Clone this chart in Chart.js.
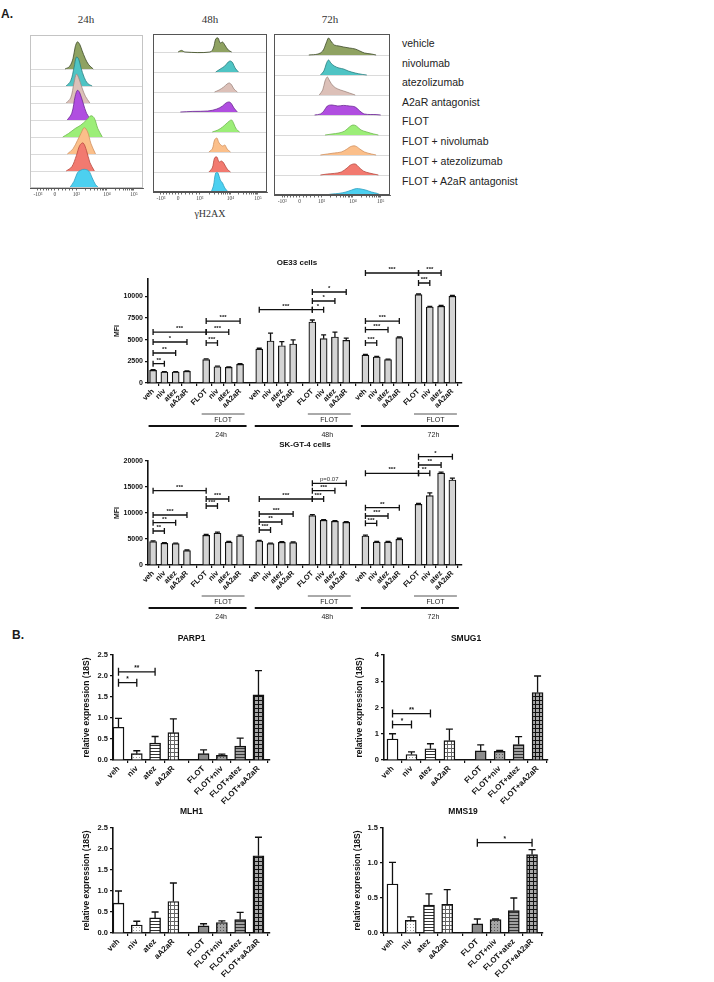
<!DOCTYPE html>
<html>
<head>
<meta charset="utf-8">
<script src="https://cdn.jsdelivr.net/npm/chart.js@4.4.1/dist/chart.umd.min.js"></script>
<style>
  body { margin: 0; width: 714px; height: 982px; background: #fff; position: relative; overflow: hidden;
         font-family: "Liberation Sans", Arial, sans-serif; color: #1a1a1a; }
  canvas { position: absolute; }
  .t { position: absolute; white-space: nowrap; line-height: 1; }
  .c { transform: translate(-50%, -50%); }
  .m { transform: translateY(-50%); }
  .serif { font-family: "Liberation Serif", "Times New Roman", serif; color: #333; }
</style>
</head>
<body>
<div class="t" style="left:1px;top:8px;font-weight:bold;font-size:12px">A.</div>
<div class="t c serif" style="left:86px;top:19px;font-size:11px">24h</div>
<div class="t c serif" style="left:210px;top:19px;font-size:11px">48h</div>
<div class="t c serif" style="left:330px;top:19px;font-size:11px">72h</div>
<div class="t c serif" style="left:210px;top:214px;font-size:10px">γH2AX</div>
<div id="legend"></div>
<div class="t m" style="left:12px;top:635px;font-weight:bold;font-size:12px">B.</div>

<script>
// ---- histogram rows (flow cytometry, gamma-H2AX) ----
const histLabels = ['vehicle', 'nivolumab', 'atezolizumab', 'A2aR antagonist', 'FLOT',
  'FLOT + nivolumab', 'FLOT + atezolizumab', 'FLOT + A2aR antagonist'];
const histFill = ['#8fa262', '#4fc4c4', '#dcc0b8', '#b04ee0', '#9cee78', '#fbbf8a', '#f27a70', '#4cd0f0'];
const histEdge = ['#3d4a2a', '#2a7f80', '#a08880', '#6a2a90', '#70b850', '#d09060', '#b84a40', '#30a0c0'];
const histTickPos = [7, 22, 41, 68, 92];
const histTickText = ['-10³', '0', '10³', '10⁴', '10⁵'];

// [channel, height in rows]
const hist24 = [
  [[31,0],[35,0.15],[38,0.6],[40,1.3],[42,1.6],[44,1.45],[46,1.1],[49,0.6],[52,0.25],[56,0]],
  [[32,0],[36,0.3],[39,1.1],[41,1.7],[43,1.6],[45,1.1],[48,0.5],[51,0.15],[55,0]],
  [[32,0],[36,0.3],[39,1.2],[41,1.7],[43,1.5],[46,0.9],[49,0.4],[53,0]],
  [[33,0],[37,0.4],[40,1.4],[42,1.75],[44,1.6],[47,1.0],[50,0.4],[54,0]],
  [[29,0],[34,0.2],[40,0.5],[45,0.7],[50,1.0],[54,1.25],[57,1.1],[60,0.5],[64,0]],
  [[33,0],[38,0.3],[42,0.8],[45,1.2],[48,1.55],[51,1.3],[54,0.6],[58,0]],
  [[32,0],[37,0.25],[41,0.9],[44,1.5],[47,1.65],[50,1.2],[53,0.5],[57,0]],
  [[35,0],[39,0.4],[42,0.9],[45,1.05],[48,1.1],[52,1.0],[55,0.6],[58,0.2],[61,0]]
];
const hist48 = [
  [[22,0],[25,0.08],[28,0],[50,0],[53,0.2],[55,0.65],[57,0.7],[59,0.45],[61,0.5],[63,0.35],[66,0.1],[69,0]],
  [[55,0],[59,0.15],[63,0.3],[66,0.5],[68,0.55],[70,0.45],[72,0.2],[75,0]],
  [[54,0],[58,0.1],[62,0.25],[65,0.4],[67,0.45],[69,0.35],[71,0.15],[74,0]],
  [[24,0],[35,0.03],[48,0.05],[56,0.15],[61,0.3],[64,0.45],[67,0.5],[69,0.4],[71,0.2],[74,0]],
  [[52,0],[57,0.1],[61,0.25],[64,0.4],[67,0.55],[69,0.6],[71,0.4],[73,0.15],[76,0]],
  [[49,0],[52,0.15],[54,0.6],[56,0.7],[58,0.45],[61,0.3],[63,0.35],[65,0.15],[68,0]],
  [[49,0],[52,0.2],[54,0.7],[56,0.75],[58,0.5],[60,0.55],[62,0.45],[65,0.15],[68,0]],
  [[51,0],[53,0.3],[55,0.95],[57,0.95],[59,0.6],[61,0.45],[63,0.2],[66,0]]
];
const hist72 = [
  [[30,0],[38,0.05],[42,0.2],[45,0.6],[47,0.85],[49,0.7],[52,0.5],[56,0.45],[60,0.4],[65,0.35],[70,0.3],[74,0.2],[78,0.1],[84,0.05],[88,0]],
  [[40,0],[43,0.2],[45,0.55],[47,0.75],[49,0.6],[52,0.45],[56,0.35],[60,0.3],[64,0.2],[70,0.1],[76,0.03],[80,0]],
  [[39,0],[42,0.25],[44,0.7],[46,0.9],[48,0.7],[51,0.45],[55,0.3],[60,0.2],[65,0.1],[70,0]],
  [[35,0],[40,0.05],[43,0.2],[46,0.45],[50,0.5],[55,0.45],[60,0.48],[65,0.45],[70,0.4],[74,0.2],[78,0.05],[88,0.02],[92,0]],
  [[44,0],[50,0.05],[56,0.1],[61,0.2],[65,0.4],[68,0.5],[71,0.45],[75,0.25],[80,0.15],[86,0.05],[90,0]],
  [[40,0],[46,0.05],[52,0.1],[58,0.15],[63,0.3],[66,0.42],[70,0.45],[74,0.3],[78,0.15],[84,0.05],[88,0]],
  [[40,0],[46,0.05],[52,0.08],[58,0.15],[63,0.35],[66,0.5],[70,0.55],[73,0.4],[77,0.2],[82,0.1],[90,0]],
  [[44,0],[50,0.05],[56,0.08],[62,0.15],[67,0.25],[71,0.32],[75,0.3],[79,0.25],[84,0.15],[89,0.08],[92,0]]
];

// ---- MFI bar charts ----
const mfiLabels = ['veh', 'niv', 'atez', 'aA2aR', 'FLOT', 'niv', 'atez', 'aA2aR'];
const timeLabels = ['24h', '48h', '72h'];
const oe33Mean = [1460,1270,1270,1350, 2700,1880,1800,2150, 3920,4850,4300,4500, 7040,5120,5310,4920,
                  3230,3000,2690,5230, 10190,8770,8850,10000];
const oe33Sem  = [80,50,50,50, 90,60,60,70, 90,900,480,480, 230,440,560,260, 70,60,60,80, 80,80,90,110];
const skMean = [4490,4170,4100,2760, 5710,6150,4420,5580, 4620,4100,4360,4300, 9490,8590,8400,8200,
                5580,4420,4420,4940, 11670,13330,17690,16350];
const skSem  = [150,120,120,120, 180,180,120,150, 130,100,120,120, 200,150,150,150, 170,130,130,200,
                200,550,180,350];
// [from bar, to bar, height, label]
const oe33Sig = [
  [0,1,2230,'**'],[0,2,3460,'**'],[0,3,4730,'*'],[0,4,5880,'***'],[4,5,4620,'***'],[4,6,5880,'***'],[4,7,7150,'***'],
  [8,12,8460,'***'],[12,13,8460,'*'],[12,14,9460,'*'],[12,15,10500,'*'],
  [16,17,4620,'***'],[16,18,6150,'***'],[16,19,7150,'***'],[16,20,12690,'***'],[20,21,11540,'***'],[20,22,12690,'***']
];
const skSig = [
  [0,1,6540,'**'],[0,2,8140,'**'],[0,3,9620,'***'],[0,4,14290,'***'],[4,5,11350,'***'],[4,6,12690,'***'],
  [8,9,6730,'***'],[8,10,8270,'**'],[8,11,9810,'***'],[8,12,12690,'***'],[12,13,12690,'***'],[12,14,14290,'***'],
  [12,15,15710,'p=0.07'],
  [16,17,8010,'***'],[16,18,9420,'***'],[16,19,11030,'**'],[16,20,17630,'***'],[20,21,17630,'**'],[20,22,19230,'**'],
  [20,23,20830,'*']
];

// ---- qPCR bar charts ----
const qLabels = ['veh', 'niv', 'atez', 'aA2aR', 'FLOT', 'FLOT+niv', 'FLOT+atez', 'FLOT+aA2aR'];
const parp1Mean = [0.78,0.15,0.40,0.65,0.15,0.11,0.33,1.55];
const parp1Sem  = [0.21,0.07,0.16,0.33,0.09,0.03,0.19,0.58];
const smug1Mean = [0.80,0.21,0.43,0.74,0.35,0.33,0.59,2.57];
const smug1Sem  = [0.20,0.10,0.19,0.44,0.23,0.04,0.30,0.63];
const mlh1Mean  = [0.71,0.19,0.36,0.75,0.17,0.25,0.32,1.84];
const mlh1Sem   = [0.29,0.09,0.14,0.44,0.05,0.04,0.17,0.44];
const mms19Mean = [0.70,0.18,0.40,0.41,0.13,0.19,0.32,1.12];
const mms19Sem  = [0.31,0.05,0.16,0.21,0.07,0.01,0.18,0.07];
const parp1Sig = [[0,1,1.84,'*'],[0,2,2.10,'**']];
const smug1Sig = [[0,1,1.35,'*'],[0,2,1.77,'**']];
const mlh1Sig = [];
const mms19Sig = [[4,7,1.29,'*']];

Chart.defaults.font.family = '"Liberation Sans", Arial, sans-serif';
Chart.defaults.color = '#111';

function mk(x, y, w, h) {
  const c = document.createElement('canvas');
  c.width = w; c.height = h;
  c.style.left = x + 'px'; c.style.top = y + 'px';
  document.body.appendChild(c);
  return c;
}

// legend text beside the histograms
[43, 63, 82, 102, 121, 141, 161, 181].forEach((y, i) => {
  const d = document.createElement('div');
  d.className = 't m';
  d.style.cssText = `left:402px;top:${y}px;font-size:10.5px;color:#222`;
  d.textContent = histLabels[i];
  document.getElementById('legend').appendChild(d);
});

// axis decoration ticks for the biexponential axis
const minorTicks = [];
[[41, 68], [68, 92]].forEach(([a, b]) => { for (let k = 2; k < 10; k++) minorTicks.push(a + (b - a) * Math.log10(k)); });
for (let k = 1; k < 6; k++) { minorTicks.push(22 - k * 2.6); minorTicks.push(22 + k * 3.2); }

function histChart(curves, area, yMax, frame) {
  const pad = 4, xh = 14;
  const cv = mk(area.l - pad, area.t - 2, area.r - area.l + 2 * pad, area.b - area.t + 2 + xh);
  const ticks = histTickPos.map((v, i) => ({ value: v, label: histTickText[i] }))
    .concat(minorTicks.map(v => ({ value: v, label: '' })))
    .sort((a, b) => a.value - b.value);
  new Chart(cv, {
    type: 'line',
    data: {
      datasets: curves.map((pts, k) => ({
        data: pts.map(p => ({ x: p[0], y: 7 - k + p[1] })),
        fill: { value: 7 - k },
        backgroundColor: histFill[k], borderColor: histEdge[k], borderWidth: 0.8,
        pointRadius: 0, tension: 0.35, order: 7 - k
      }))
    },
    options: {
      responsive: false, animation: false, events: [], devicePixelRatio: 1,
      layout: { padding: { left: pad, right: pad, top: 2, bottom: 0 } },
      plugins: { legend: { display: false }, tooltip: { enabled: false } },
      scales: {
        x: {
          type: 'linear', min: 0, max: 100,
          afterBuildTicks: s => { s.ticks = ticks.map(t => ({ value: t.value })); },
          afterFit: s => { s.height = xh; s.paddingLeft = s.paddingRight = 0; },
          ticks: { autoSkip: false, maxRotation: 0, padding: 1, color: '#444',
                   font: { family: '"Liberation Serif"', size: 5.5 }, callback: (v, i) => ticks[i].label },
          grid: { drawOnChartArea: false, tickLength: 2.5, color: '#444', lineWidth: 0.8 },
          border: { color: '#555', width: 1 }
        },
        y: {
          min: 0, max: yMax,
          afterBuildTicks: s => { s.ticks = [1, 2, 3, 4, 5, 6, 7].map(v => ({ value: v })); },
          afterFit: s => { s.width = 0; s.paddingTop = s.paddingBottom = 0; },
          ticks: { display: false },
          grid: { color: '#d0d0d0', lineWidth: 0.8, drawTicks: false },
          border: { display: false }
        }
      }
    },
    plugins: [{
      id: 'frame',
      afterDraw(ch) {
        const a = ch.chartArea, g = ch.ctx;
        g.save(); g.strokeStyle = frame; g.lineWidth = 1;
        g.strokeRect(a.left + 0.5, a.top + 0.5, a.right - a.left - 1, a.bottom - a.top - 1);
        g.restore();
      }
    }]
  });
}

histChart(hist24, { l: 30, r: 143, t: 35, b: 188 }, 9.0, '#c4c4c4');
histChart(hist48, { l: 153, r: 267, t: 34, b: 192 }, 7.9, '#555');
histChart(hist72, { l: 274, r: 390, t: 34, b: 195 }, 8.05, '#555');

function barChart(o) {
  const cv = mk(o.x, o.y, o.w, o.h);
  const xs = o.means.map((_, i) => o.pos(i));
  const yTicks = [];
  for (let k = 0; k * o.yStep <= o.yMax + 1e-9; k++) yTicks.push({ value: Math.round(k * o.yStep * 1e6) / 1e6 });
  const deco = {
    id: 'deco',
    afterDatasetsDraw(ch) {
      const g = ch.ctx, X = ch.scales.x, Y = ch.scales.y, ca = ch.chartArea;
      g.save();
      g.strokeStyle = '#111'; g.fillStyle = '#111'; g.lineWidth = 1.3;
      // error bars (upper half)
      ch.getDatasetMeta(0).data.forEach((el, i) => {
        const top = Y.getPixelForValue(o.means[i] + o.sems[i]);
        g.beginPath();
        g.moveTo(el.x, el.y); g.lineTo(el.x, top);
        g.moveTo(el.x - o.capW, top); g.lineTo(el.x + o.capW, top);
        g.stroke();
      });
      // significance brackets
      o.sigs.forEach(([a, b, v, lab]) => {
        const xa = X.getPixelForValue(xs[a]), xb = X.getPixelForValue(xs[b]), y = Y.getPixelForValue(v);
        g.lineWidth = 1.3;
        g.beginPath();
        g.moveTo(xa, y); g.lineTo(xb, y);
        g.moveTo(xa, y - o.tickH); g.lineTo(xa, y + o.tickH);
        g.moveTo(xb, y - o.tickH); g.lineTo(xb, y + o.tickH);
        g.stroke();
        const p = lab.startsWith('p');
        g.font = (p ? '' : 'bold ') + o.starFont + 'px "Liberation Sans"';
        g.fillStyle = p ? '#333' : '#111';
        g.textAlign = 'center'; g.textBaseline = 'bottom';
        g.fillText(lab, (xa + xb) / 2, y - 0.5);
      });
      g.fillStyle = '#111';
      // title
      g.font = 'bold ' + o.titleFont + 'px "Liberation Sans"';
      g.textAlign = 'center'; g.textBaseline = 'middle';
      g.fillText(o.title, (ca.left + ca.right) / 2 + (o.titleDx || 0), o.titleY - o.y);
      // treatment / time group lines under the axis
      if (o.groups) {
        o.groups.forEach((name, gi) => {
          const f0 = X.getPixelForValue(xs[gi * 8 + 4]) - o.barW / 2 - 1;
          const f1 = X.getPixelForValue(xs[gi * 8 + 7]) + o.barW / 2 + 1;
          const t0 = X.getPixelForValue(xs[gi * 8]) - o.barW / 2 - 1;
          const yb = ca.bottom;
          g.strokeStyle = '#555'; g.lineWidth = 1;
          g.beginPath(); g.moveTo(f0, yb + 31); g.lineTo(f1, yb + 31); g.stroke();
          g.strokeStyle = '#111'; g.lineWidth = 2;
          g.beginPath(); g.moveTo(t0, yb + 43); g.lineTo(f1 + 2, yb + 43); g.stroke();
          g.font = '7px "Liberation Sans"'; g.fillStyle = '#222';
          g.fillText('FLOT', (f0 + f1) / 2, yb + 37);
          g.fillText(name, (f0 + f1) / 2 - 2, yb + 52);
        });
      }
      g.restore();
    }
  };
  new Chart(cv, {
    type: 'bar',
    data: {
      datasets: [{
        data: o.means.map((m, i) => ({ x: xs[i], y: m })),
        backgroundColor: o.fill, borderColor: '#111', borderWidth: o.bw,
        barThickness: o.barW, borderSkipped: 'bottom'
      }]
    },
    options: {
      responsive: false, animation: false, events: [], devicePixelRatio: 1,
      layout: { padding: { left: 0, right: o.padR, top: o.padT, bottom: 0 } },
      plugins: { legend: { display: false }, tooltip: { enabled: false } },
      scales: {
        x: {
          type: 'linear', min: o.xMin, max: o.xMax, offset: false,
          afterBuildTicks: s => { s.ticks = xs.map(v => ({ value: v })); },
          afterFit: s => { s.height = o.xh; s.paddingLeft = s.paddingRight = 0; },
          ticks: { autoSkip: false, minRotation: 45, maxRotation: 45, padding: 1, color: '#111',
                   font: { size: o.xFont, weight: 'bold' }, callback: (v, i) => o.labels[i] },
          grid: { drawOnChartArea: false, tickLength: 3, color: '#111', lineWidth: 1.2 },
          border: { color: '#111', width: 1.6 }
        },
        y: {
          min: 0, max: o.yMax,
          afterBuildTicks: s => { s.ticks = yTicks.map(t => ({ value: t.value })); },
          afterFit: s => { s.width = o.yw; s.paddingTop = s.paddingBottom = 0; },
          ticks: { autoSkip: false, padding: 2, color: '#111',
                   font: { size: o.yFont, weight: 'bold' }, callback: o.yFmt },
          title: { display: true, text: o.yTitle, padding: 0, color: '#111',
                   font: { size: o.yTitleFont, weight: 'bold' } },
          grid: { drawOnChartArea: false, tickLength: 3, color: '#111', lineWidth: 1.2 },
          border: { color: '#111', width: 1.6 }
        }
      }
    },
    plugins: [deco]
  });
}

const mfiPos = i => Math.floor(i / 4) * 4.7 + (i % 4);
const mfiAll = [0, 1, 2].flatMap(() => mfiLabels);
const mfiBase = {
  x: 113, w: 357, h: 193, padR: 8, padT: 31, yw: 35, xh: 58,
  pos: mfiPos, labels: mfiAll, xMin: -0.45, xMax: 27.35,
  fill: '#d4d4d4', bw: 1.2, barW: 7, capW: 2.5, tickH: 3, starFont: 6,
  xFont: 7.5, yFont: 7, yTitle: 'MFI', yTitleFont: 7, yFmt: v => String(v),
  titleFont: 8, groups: timeLabels
};
barChart(Object.assign({}, mfiBase, {
  y: 248, means: oe33Mean, sems: oe33Sem, sigs: oe33Sig, yMax: 12000, yStep: 2500,
  title: 'OE33 cells', titleY: 263, titleDx: -8
}));
barChart(Object.assign({}, mfiBase, {
  y: 430, means: skMean, sems: skSem, sigs: skSig, yMax: 20000, yStep: 5000,
  title: 'SK-GT-4 cells', titleY: 445
}));

// qPCR fills
function pat(bg, size, draw) {
  const c = document.createElement('canvas'); c.width = c.height = size;
  const x = c.getContext('2d'); x.fillStyle = bg; x.fillRect(0, 0, size, size); draw(x);
  return x.createPattern(c, 'repeat');
}
const qFill = [
  '#ffffff',
  pat('#ffffff', 3, x => { x.fillStyle = '#9a9a9a'; x.fillRect(0, 0, 1, 1); }),
  pat('#ffffff', 3, x => { x.fillStyle = '#333'; x.fillRect(0, 0, 3, 1); }),
  pat('#ffffff', 4, x => { x.fillStyle = '#666'; x.fillRect(0, 0, 4, 1); x.fillRect(0, 0, 1, 4); }),
  '#8c8c8c',
  pat('#a4a4a4', 3, x => { x.fillStyle = '#555'; x.fillRect(0, 0, 1, 1); }),
  pat('#a0a0a0', 3, x => { x.fillStyle = '#333'; x.fillRect(0, 0, 3, 1); }),
  pat('#a8a8a8', 4, x => { x.fillStyle = '#111'; x.fillRect(0, 0, 4, 1); x.fillRect(0, 0, 1, 4); })
];
const qPos = i => (i < 4 ? i : i + 0.65);
const qBase = {
  w: 200, h: 180, padT: 27, xh: 48, pos: qPos, labels: qLabels,
  fill: qFill, bw: 1.4, barW: 11, capW: 3.5, tickH: 4, starFont: 6.5,
  xFont: 8, yFont: 7.5, yTitle: 'relative expression (18S)', yTitleFont: 8.5,
  titleFont: 8.5
};
const f1 = v => v.toFixed(1);
barChart(Object.assign({}, qBase, {
  x: 82, y: 628, yw: 31, padR: 12, xMin: -0.3, xMax: 8.28,
  means: parp1Mean, sems: parp1Sem, sigs: parp1Sig, yMax: 2.5, yStep: 0.5, yFmt: f1,
  title: 'PARP1', titleY: 639
}));
barChart(Object.assign({}, qBase, {
  x: 355, w: 205, y: 628, yw: 29, padR: 12, xMin: -0.45, xMax: 8.2,
  means: smug1Mean, sems: smug1Sem, sigs: smug1Sig, yMax: 4, yStep: 1, yFmt: v => String(v),
  title: 'SMUG1', titleY: 639
}));
barChart(Object.assign({}, qBase, {
  x: 82, y: 801, yw: 31, padR: 12, xMin: -0.3, xMax: 8.28,
  means: mlh1Mean, sems: mlh1Sem, sigs: mlh1Sig, yMax: 2.5, yStep: 0.5, yFmt: f1,
  title: 'MLH1', titleY: 812
}));
barChart(Object.assign({}, qBase, {
  x: 353, y: 801, yw: 30, padR: 10, xMin: -0.52, xMax: 8.25,
  means: mms19Mean, sems: mms19Sem, sigs: mms19Sig, yMax: 1.5, yStep: 0.5, yFmt: f1,
  title: 'MMS19', titleY: 812
}));
</script>
</body>
</html>
